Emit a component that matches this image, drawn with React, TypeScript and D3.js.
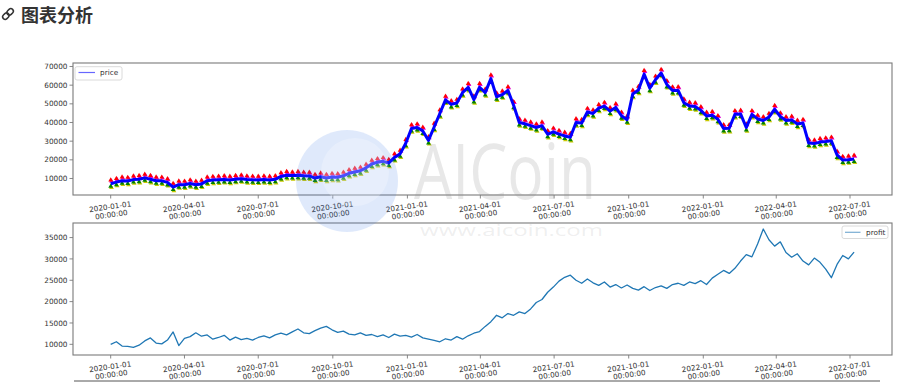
import React from "react";
import * as d3 from "d3";

// weekly samples starting 2020-01-01
const START_DATE = "2020-01-01";
const STEP_DAYS = 7;

const price = [
  7200, 8050, 8800, 8650, 9400, 9600, 10350, 9600, 8800, 8750, 7900, 5400, 6700,
  6650, 7300, 6650, 7100, 8800, 9150, 9300, 9500, 9200, 9650, 9900, 9450, 9300,
  9230, 9430, 9200, 9550, 11100, 11750, 11550, 11750, 11450, 11400, 10250, 10950,
  10250, 10780, 10650, 11450, 12800, 13500, 14150, 15700, 17800, 18700, 19200,
  18300, 21300, 23200, 28900,
  36800, 37300, 35500, 30400, 37600, 44800, 52100, 49700, 50400, 56000, 58900,
  52300, 58900, 56000, 63500, 53800, 54900, 57200, 49200, 40000, 39300, 38300,
  37300, 38300, 33700, 35000, 33800, 32800, 32100, 40000, 39700, 45600, 44800,
  47700, 48800, 46100, 48100, 43600, 41500, 55300, 57400, 65900, 58400, 62900,
  66500, 60400, 57100, 57200, 50600, 48900, 48600, 46500,
  43500, 43900, 41700, 36800, 36900, 44400, 44600, 37300, 44400, 41900, 41100,
  42900, 47100, 43200, 41100, 41400, 39200, 39700, 29000, 28700, 29500, 29800,
  30200, 22600, 19900, 20100, 20500,
];

const profit = [
  10000, 10600, 9600, 9500, 9300, 9800, 10800, 11500, 10300, 10100, 11000, 12900,
  9700, 11400, 11800, 12700, 11900, 12200, 11200, 11600, 12100, 11000, 11700,
  11100, 11400, 11000, 11600, 12000, 11500, 12200, 12600, 12200, 12900, 13600,
  12700, 12500, 13200, 13800, 14200, 13400, 12800, 13100, 12400, 12200, 12700,
  12100, 12300, 11800, 12200, 11600, 12400, 11900, 12100, 11700, 12300, 11500,
  11200, 10900, 10600, 11300, 11000, 11800, 11200, 12000, 12600, 13000, 14200,
  15300, 16800, 16200, 17200, 16800, 17600, 17200, 18300, 19800, 20500, 22200,
  23400, 24800, 25700, 26200, 25000, 24300, 25300, 24400, 23800, 24600, 23400,
  24000, 23200, 23900, 23100, 22700, 23500, 22600, 23300, 23700, 23100, 24000,
  24300, 23800, 24600, 24200, 24900, 24000, 25500, 26400, 27300, 26600, 27800,
  29500, 31000, 30500, 33500, 37000, 34500, 33000, 34000, 31500, 30400, 31200,
  29500, 28600, 30200, 29200, 27600, 25600, 28700, 30800, 30000, 31600,
];

const xTickLabels = [
  "2020-01-01", "2020-04-01", "2020-07-01", "2020-10-01", "2021-01-01",
  "2021-04-01", "2021-07-01", "2021-10-01", "2022-01-01", "2022-04-01", "2022-07-01",
];
const priceTicks = [10000, 20000, 30000, 40000, 50000, 60000, 70000];
const profitTicks = [10000, 15000, 20000, 25000, 30000, 35000];

const parse = d3.utcParse("%Y-%m-%d");
const start = parse(START_DATE)!;
const dates = price.map((_, i) => d3.utcDay.offset(start, i * STEP_DAYS));

const W = 904;
const H = 382;
const L = 73;
const R = 892;
const TOP1 = [63, 195];
const TOP2 = [223, 355];

const x = d3
  .scaleUtc()
  .domain([new Date(Date.UTC(2019, 10, 15, 12)), new Date(Date.UTC(2022, 7, 21, 19))])
  .range([L, R]);
const y1 = d3.scaleLinear().domain([1160, 71875]).range([TOP1[1], TOP1[0]]);
const y2 = d3.scaleLinear().domain([7500, 38411]).range([TOP2[1], TOP2[0]]);

const FONT = "DejaVu Sans, sans-serif";
const TICK_FS = 7.3;
const SPINE = "#7a7a7a";

function XAxis({ bottom }: { bottom: number }) {
  return (
    <g>
      {xTickLabels.map((t) => {
        const px = x(parse(t)!);
        return (
          <g key={t}>
            <line x1={px} x2={px} y1={bottom} y2={bottom + 3.5} stroke={SPINE} strokeWidth={0.9} />
            <g transform={`translate(${px},${bottom + 15.5}) rotate(-8)`}>
              <text textAnchor="middle" y={-1.3} fontSize={TICK_FS} fontFamily={FONT} fill="#333">
                {t}
              </text>
              <text textAnchor="middle" y={6.7} fontSize={TICK_FS} fontFamily={FONT} fill="#333">
                00:00:00
              </text>
            </g>
          </g>
        );
      })}
    </g>
  );
}

function YAxis({ ticks, scale }: { ticks: number[]; scale: d3.ScaleLinear<number, number> }) {
  return (
    <g>
      {ticks.map((t) => {
        const py = scale(t);
        return (
          <g key={t}>
            <line x1={L - 3.5} x2={L} y1={py} y2={py} stroke={SPINE} strokeWidth={0.9} />
            <text x={L - 5.5} y={py + 2.6} textAnchor="end" fontSize={TICK_FS} fontFamily={FONT} fill="#333">
              {t}
            </text>
          </g>
        );
      })}
    </g>
  );
}

function Frame({ top, bottom }: { top: number; bottom: number }) {
  return (
    <rect x={L} y={top} width={R - L} height={bottom - top} fill="none" stroke={SPINE} strokeWidth={1.1} />
  );
}

export default function App() {
  const priceLine = d3
    .line<number>()
    .x((_, i) => x(dates[i]))
    .y((d) => y1(d))(price)!;
  const profitLine = d3
    .line<number>()
    .x((_, i) => x(dates[i]))
    .y((d) => y2(d))(profit)!;

  const tri = d3.symbol().type(d3.symbolTriangle).size(10)()!;
  const markerLayers = [
    { color: "#c8c800", dy: 3.8, dx: 0.8 },
    { color: "#008000", dy: 2.6, dx: 0 },
    { color: "#e000e0", dy: -2.6, dx: 0.8 },
    { color: "#ff0000", dy: -3.6, dx: 0 },
  ];

  return (
    <svg
      width={W}
      height={H}
      style={{ position: "absolute", left: 0, top: 0, background: "#fff" }}
    >
      {/* title */}
      <g transform="translate(8,14) rotate(-45)" fill="none" stroke="#333" strokeWidth={1.5}>
        <rect x={-6.5} y={-2.5} width={7} height={5} rx={2.5} />
        <rect x={-0.5} y={-2.5} width={7} height={5} rx={2.5} />
      </g>
      <text x={21} y={21.5} fontSize={18} fontWeight="bold" fontFamily="Noto Sans CJK SC, sans-serif" fill="#333">
        图表分析
      </text>

      {/* price chart */}
      <g>
        {markerLayers.map((m, k) => (
          <g key={k}>
            {price.map((v, i) => (
              <path
                key={i}
                d={tri}
                fill={m.color}
                transform={`translate(${x(dates[i]) + m.dx},${y1(v) + m.dy})`}
              />
            ))}
          </g>
        ))}
        <path d={priceLine} fill="none" stroke="#0000ff" strokeWidth={3} strokeLinejoin="round" />
        <Frame top={TOP1[0]} bottom={TOP1[1]} />
        <YAxis ticks={priceTicks} scale={y1} />
        <XAxis bottom={TOP1[1]} />
        <rect x={75} y={66.7} width={47} height={13.3} rx={2} fill="#fff" fillOpacity={0.8} stroke="#d0d0d0" strokeWidth={0.8} />
        <line x1={78.5} x2={95} y1={72.5} y2={72.5} stroke="#0000ff" strokeOpacity={0.6} strokeWidth={1.2} />
        <text x={100} y={75.2} fontSize={TICK_FS} fontFamily={FONT} fill="#333">
          price
        </text>
      </g>

      {/* profit chart */}
      <g>
        <path d={profitLine} fill="none" stroke="#1f77b4" strokeWidth={1.3} strokeLinejoin="round" />
        <Frame top={TOP2[0]} bottom={TOP2[1]} />
        <YAxis ticks={profitTicks} scale={y2} />
        <XAxis bottom={TOP2[1]} />
        <rect x={842} y={226} width={46} height={12.5} rx={2} fill="#fff" fillOpacity={0.8} stroke="#d0d0d0" strokeWidth={0.8} />
        <line x1={845} x2={860.5} y1={232.3} y2={232.3} stroke="#1f77b4" strokeOpacity={0.6} strokeWidth={1.2} />
        <text x={866} y={235} fontSize={TICK_FS} fontFamily={FONT} fill="#333">
          profit
        </text>
      </g>

      <line x1={74} x2={880} y1={381} y2={381} stroke="#555" strokeWidth={1} />

      {/* watermark */}
      <g pointerEvents="none">
        <circle cx={347} cy={181} r={51} fill="#3f7fe8" fillOpacity={0.17} />
        <circle cx={355} cy={172} r={34} fill="#ffffff" fillOpacity={0.25} />
        <text
          x={414}
          y={199}
          fontSize={76}
          fontFamily="Open Sans, sans-serif"
          fill="#8a8a8a"
          fillOpacity={0.2}
          textLength={182}
          lengthAdjust="spacingAndGlyphs"
        >
          AICoin
        </text>
        <text
          x={420}
          y={236}
          fontSize={16}
          fontFamily="Open Sans, sans-serif"
          fill="#8a8a8a"
          fillOpacity={0.15}
          textLength={183}
          lengthAdjust="spacingAndGlyphs"
        >
          www.aicoin.com
        </text>
      </g>
    </svg>
  );
}
